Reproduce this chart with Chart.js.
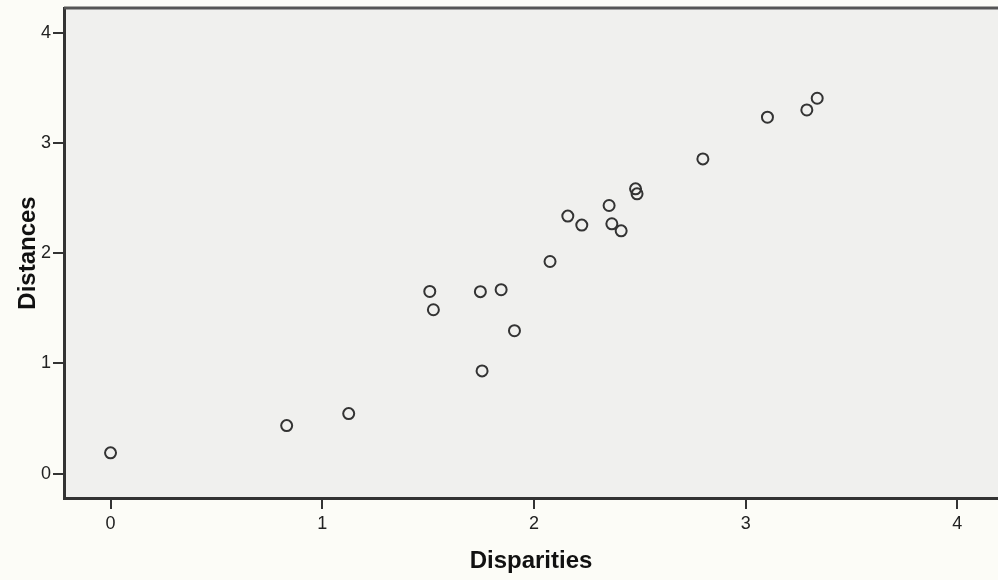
<!DOCTYPE html>
<html lang="en">
<head>
    <meta charset="UTF-8" />
    <title>Distances vs Disparities</title>
    <script src="https://cdn.jsdelivr.net/npm/chart.js"></script>
    <style>
        * {
            box-sizing: border-box;
            margin: 0;
            padding: 0;
        }
        body {
            background: #fcfcf7;
            overflow: hidden;
        }
        canvas {
            display: block;
        }
    </style>
</head>
<body>

    <canvas id="scatterChart" width="998" height="580"></canvas>

    <script>
        // values
        const disparities = [0, 0.832, 1.125, 1.508, 1.525, 1.747, 1.755, 1.845, 1.908, 2.076, 2.160,
                             2.226, 2.355, 2.368, 2.412, 2.480, 2.487, 2.798, 3.103, 3.289, 3.338];
        const distances = [0.188, 0.435, 0.544, 1.652, 1.486, 1.650, 0.931, 1.668, 1.296, 1.924, 2.336,
                           2.254, 2.432, 2.266, 2.202, 2.583, 2.538, 2.855, 3.233, 3.299, 3.405];
        const xTicks = [0, 1, 2, 3, 4];
        const yTicks = [0, 1, 2, 3, 4];

        const points = disparities.map((d, i) => ({ x: d, y: distances[i] }));

        // grey plot area + top frame line
        const frame = {
            id: 'frame',
            beforeDraw(chart) {
                const { ctx, chartArea: a } = chart;
                ctx.save();
                ctx.fillStyle = '#f0f0ee';
                ctx.fillRect(a.left, a.top, a.right - a.left, a.bottom - a.top);
                ctx.restore();
            },
            afterDraw(chart) {
                const { ctx, chartArea: a } = chart;
                ctx.save();
                ctx.strokeStyle = '#555';
                ctx.lineWidth = 3;
                ctx.beginPath();
                ctx.moveTo(a.left, a.top);
                ctx.lineTo(a.right, a.top);
                ctx.stroke();
                ctx.restore();
            }
        };

        const tickFont = { family: 'Arial, "Liberation Sans", sans-serif', size: 18 };
        const titleFont = { family: 'Arial, "Liberation Sans", sans-serif', size: 24, weight: 'bold' };

        new Chart(document.getElementById('scatterChart'), {
            type: 'scatter',
            data: {
                datasets: [{
                    data: points,
                    pointStyle: 'circle',
                    pointRadius: 5.5,
                    pointBorderWidth: 2,
                    borderColor: '#333',
                    backgroundColor: 'rgba(0,0,0,0)'
                }]
            },
            options: {
                responsive: false,
                animation: false,
                layout: { autoPadding: false, padding: { top: 8, right: 0, bottom: 0, left: 0 } },
                plugins: {
                    legend: { display: false },
                    tooltip: { enabled: false }
                },
                scales: {
                    x: {
                        type: 'linear',
                        min: -0.2198,
                        max: 4.192,
                        afterBuildTicks: s => { s.ticks = xTicks.map(v => ({ value: v })); },
                        afterFit: s => { s.height = 82; s.paddingLeft = 0; s.paddingRight = 0; },
                        grid: { drawOnChartArea: false, drawTicks: true, tickLength: 11, color: '#333', lineWidth: 2 },
                        border: { display: true, color: '#333', width: 3 },
                        ticks: { color: '#222', font: tickFont, padding: 4, maxRotation: 0 },
                        title: { display: true, text: 'Disparities', color: '#111', font: titleFont, padding: { top: 0, bottom: 4 } }
                    },
                    y: {
                        type: 'linear',
                        min: -0.222,
                        max: 4.224,
                        afterBuildTicks: s => { s.ticks = yTicks.map(v => ({ value: v })); },
                        afterFit: s => { s.width = 64; s.paddingTop = 0; s.paddingBottom = 0; },
                        grid: { drawOnChartArea: false, drawTicks: true, tickLength: 11, color: '#333', lineWidth: 2 },
                        border: { display: true, color: '#333', width: 3 },
                        ticks: { color: '#222', font: tickFont, padding: 2 },
                        title: { display: true, text: 'Distances', color: '#111', font: titleFont, padding: { top: 14, bottom: 0 } }
                    }
                }
            },
            plugins: [frame]
        });
    </script>

</body>
</html>
